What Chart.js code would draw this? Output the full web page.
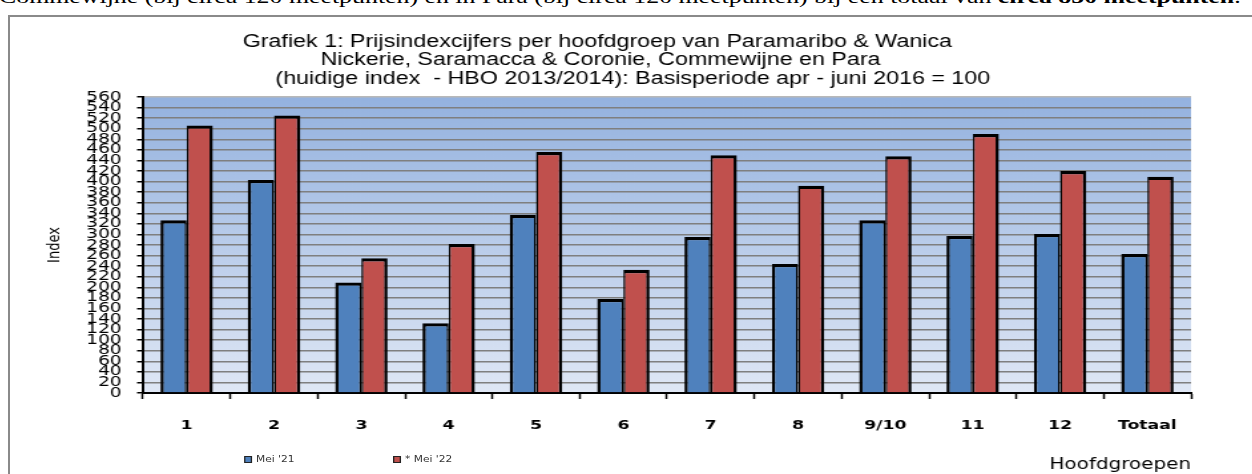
<!DOCTYPE html>
<html>
<head>
<meta charset="utf-8">
<script src="https://cdn.jsdelivr.net/npm/chart.js@4.4.1/dist/chart.umd.min.js"></script>
<style>
  html, body { margin:0; padding:0; background:#fff; overflow:hidden; }
  body { width:1252px; height:474px; position:relative; }
  .doc-line { position:absolute; left:-1px; top:-14px; font:19px "Liberation Serif", "Times New Roman", serif; white-space:nowrap; color:#000;
              transform:scaleX(1.36); transform-origin:0 0; }
  .frame { position:absolute; left:8px; top:15px; width:1262px; height:480px; border:2px solid #8a8a8a; box-sizing:border-box; }
  /* the source chart is stretched sideways, so the whole drawing is widened */
  .stretch { position:absolute; left:0; top:1px; width:931px; height:456px; transform:scaleX(1.33); transform-origin:0 0; }
  #chart { width:931px; height:456px; display:block; }
  .lg { position:absolute; top:437px; font:8px "DejaVu Sans", sans-serif; color:#333; white-space:nowrap; }
  .lg i { display:inline-block; width:4px; height:5px; border:1px solid #222; margin-right:3px; vertical-align:-1px; }
</style>
</head>
<body>
<div class="doc-line">Commewijne (bij circa 120 meetpunten) en in Para (bij circa 120 meetpunten) bij een totaal van <b>circa 850 meetpunten</b>.</div>
<div class="frame">
  <div class="stretch">
    <canvas id="chart" width="931" height="456"></canvas>
    <div id="legend"></div>
  </div>
</div>
<script>
// Data
const categories = ['1','2','3','4','5','6','7','8','9/10','11','12','Totaal']
const mei21 = [327, 403, 209, 132, 337, 178, 295, 244, 327, 297, 301, 263]
const mei22 = [506, 525, 255, 282, 456, 233, 450, 392, 448, 490, 420, 409]
const seriesLabels = ["Mei '21", "* Mei '22"]
const seriesColors = ['#4f81bd', '#c0504d']
const yMax = 560, yStep = 20

const titleLines = [
  'Grafiek 1: Prijsindexcijfers per hoofdgroep van Paramaribo & Wanica ',
  'Nickerie, Saramacca & Coronie, Commewijne en Para',
  '          (huidige index  - HBO 2013/2014): Basisperiode apr - juni 2016 = 100'
]

Chart.defaults.font.family = '"DejaVu Sans", sans-serif'
Chart.defaults.color = '#000'

// gradient fill behind the bars
const plotBackground = {
  id: 'plotBackground',
  beforeDraw(chart){
    const {ctx, chartArea: a} = chart
    const g = ctx.createLinearGradient(0, a.top, 0, a.bottom)
    g.addColorStop(0, '#94b2df')
    g.addColorStop(1, '#dfe7f5')
    ctx.save(); ctx.fillStyle = g
    ctx.fillRect(a.left, a.top, a.right - a.left, a.bottom - a.top)
    ctx.restore()
  }
}

const chart = new Chart(document.getElementById('chart'), {
  type: 'bar',
  data: {
    labels: categories,
    datasets: [
      { label: seriesLabels[0], data: mei21, backgroundColor: seriesColors[0], borderColor: '#000',
        borderWidth: {top:3.3, left:2.5, right:1.5, bottom:0}, borderSkipped: false },
      { label: seriesLabels[1], data: mei22, backgroundColor: seriesColors[1], borderColor: '#000',
        borderWidth: {top:3.3, left:1.5, right:2.5, bottom:0}, borderSkipped: false }
    ]
  },
  options: {
    responsive: false,
    animation: false,
    datasets: { bar: { categoryPercentage: 0.6, barPercentage: 1.0 } },
    layout: { padding: { left: 0, right: 43, top: 0, bottom: 0 } },
    plugins: {
      legend: { display: false },
      tooltip: { enabled: false },
      title: {
        display: true, text: titleLines, color: '#000',
        font: { family: '"Liberation Sans", Arial, sans-serif', size: 17.5, weight: 'normal', lineHeight: 1.057 },
        padding: { top: 14.5, bottom: 9 }
      }
    },
    scales: {
      x: {
        afterFit: s => { s.height = 81 },
        grid: { drawOnChartArea: false, drawTicks: true, tickLength: 6, tickColor: '#000', tickWidth: 1.5 },
        border: { color: '#000', width: 2 },
        ticks: { font: { size: 13, weight: 'bold' }, padding: 19, maxRotation: 0 },
        title: { display: true, text: 'Hoofdgroepen', align: 'end', font: { size: 15 }, padding: { top: 0, bottom: 0 } }
      },
      y: {
        min: 0, max: yMax,
        afterFit: s => { s.width = 100 },
        grid: { color: c => c.tick && c.tick.value === yMax ? '#b8b8b8' : '#7f7f7f', lineWidth: 1.5,
                tickLength: 4.5, tickColor: '#000', tickWidth: 1.5 },
        border: { color: '#000', width: 2 },
        ticks: { stepSize: yStep, autoSkip: false, font: { size: 14 }, padding: 11.5 },
        title: { display: true, text: 'Index', font: { size: 13 }, padding: { top: 26, bottom: 0 } }
      }
    }
  },
  plugins: [plotBackground]
})

// small legend under the plot, left side
const legendPos = [176, 288]
const lg = document.getElementById('legend')
seriesLabels.forEach((t, i) => {
  const d = document.createElement('div'); d.className = 'lg'; d.style.left = legendPos[i] + 'px'
  d.innerHTML = `<i style="background:${seriesColors[i]}"></i>${t}`
  lg.appendChild(d)
})
</script>
</body>
</html>
